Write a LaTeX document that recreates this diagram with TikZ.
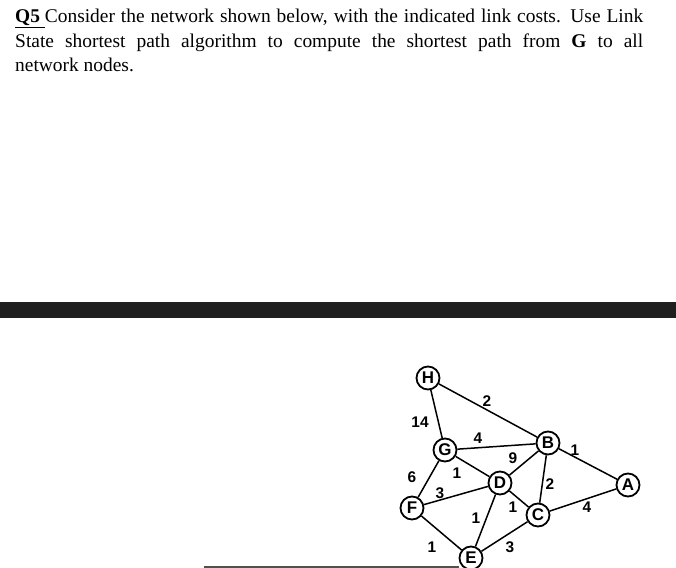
\documentclass[tikz,border=0pt]{standalone}
\usepackage{fontspec}
\setmainfont{Liberation Serif}
\newfontfamily\graphfont{Liberation Sans}
\usepackage{xcolor}
\usetikzlibrary{positioning}
\definecolor{barGray}{HTML}{1F1F1F}
\definecolor{ruleGray}{HTML}{505050}

\begin{document}
\begin{tikzpicture}[
    x=1bp, y=-1bp,
    router/.style={
        circle, draw=black, line width=1.8bp, fill=white,
        minimum size=23bp, inner sep=0pt,
        font=\graphfont\bfseries\fontsize{17}{17}\selectfont
    },
    link/.style={line width=1.5bp},
    cost/.style={font=\graphfont\bfseries\fontsize{15.5}{15.5}\selectfont, inner sep=0pt}
]
\useasboundingbox (0,0) rectangle (676,568);

% question text
\node[anchor=north west, inner sep=0pt, text width=628bp, align=justify,
      font=\fontsize{19.5}{24.5}\selectfont] (question) at (15,9)
    {\underline{\textbf{Q5}\ }Consider the network shown below, with the indicated link costs. Use Link\linebreak
     State shortest path algorithm to compute the shortest path from \textbf{G} to all\linebreak
     network nodes.};

% dark strip across the page
\fill[barGray] (0,302) rectangle (676,318);

% routers
\node[router] (H) at (428,378) {H};
\node[router] (G) at (445,450) {G};
\node[router] (B) at (548,443) {B};
\node[router] (D) at (500,483) {D};
\node[router] (A) at (628,485) {A};
\node[router] (F) at (412,508) {F};
\node[router] (C) at (538,515) {C};
\node[router] (E) at (471,558) {E};

% rule at the bottom edge
\coordinate (ruleL) at (204,566.5);
\draw[ruleGray, line width=2bp] (ruleL) -- (E.west |- ruleL);

% links
\draw[link] (H) -- (G);
\draw[link] (H) -- (B);
\draw[link] (G) -- (B);
\draw[link] (G) -- (D);
\draw[link] (G) -- (F);
\draw[link] (B) -- (D);
\draw[link] (B) -- (C);
\draw[link] (B) -- (A);
\draw[link] (F) -- (D);
\draw[link] (D) -- (C);
\draw[link] (D) -- (E);
\draw[link] (F) -- (E);
\draw[link] (E) -- (C);
\draw[link] (C) -- (A);

% link costs
\node[cost] (cHB) at (487,401) {2};
\node[cost] (cHG) at (420,422) {14};
\node[cost] (cGB) at (478,438) {4};
\node[cost] (cBD) at (513,458) {9};
\node[cost] (cGD) at (457,473) {1};
\node[cost] (cBA) at (575,450) {1};
\node[cost] (cBC) at (550,484) {2};
\node[cost] (cGF) at (412,477) {6};
\node[cost] (cFD) at (440,493) {3};
\node[cost] (cDC) at (513,507) {1};
\node[cost] (cCA) at (587,507) {4};
\node[cost] (cDE) at (476,518) {1};
\node[cost] (cFE) at (432,547) {1};
\node[cost] (cEC) at (510,547) {3};

\end{tikzpicture}
\end{document}
